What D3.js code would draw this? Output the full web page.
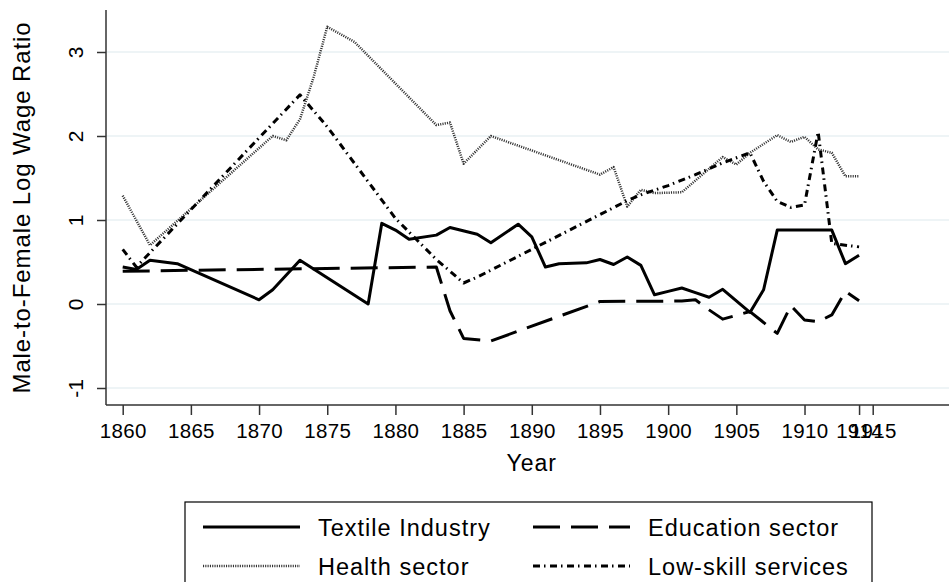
<!DOCTYPE html>
<html>
<head>
<meta charset="utf-8">
<script src="https://cdn.jsdelivr.net/npm/d3@7"></script>
<style>
  body { margin: 0; background: #fff; }
  svg text { font-family: "Liberation Sans", Arial, Helvetica, sans-serif; fill: #000; }
</style>
</head>
<body>
<svg id="chart" width="949" height="582"></svg>
<script>
// values
var textileYears = [1860,1861,1862,1864,1870,1871,1873,1878,1879,1880,1881,1883,1884,1886,1887,1889,1890,1891,1892,1894,1895,1896,1897,1898,1899,1900,1901,1902,1903,1904,1906,1907,1908,1909,1910,1911,1912,1913,1914];
var textile = [0.44,0.41,0.52,0.48,0.05,0.17,0.52,0.0,0.96,0.88,0.77,0.82,0.91,0.83,0.73,0.95,0.80,0.44,0.48,0.49,0.53,0.47,0.56,0.46,0.11,0.15,0.19,0.135,0.08,0.175,-0.10,0.17,0.88,0.88,0.88,0.88,0.88,0.48,0.58];

var eduYears = [1860,1883,1884,1885,1887,1895,1901,1902,1903,1904,1906,1908,1909,1910,1911,1912,1913,1914];
var education = [0.39,0.44,-0.08,-0.41,-0.44,0.03,0.035,0.05,-0.07,-0.18,-0.09,-0.35,-0.02,-0.19,-0.21,-0.13,0.15,0.04];

var healthYears = [1860,1862,1871,1872,1873,1874,1875,1877,1883,1884,1885,1887,1895,1896,1897,1898,1899,1901,1904,1905,1906,1908,1909,1910,1911,1912,1913,1914];
var health = [1.29,0.70,2.00,1.95,2.20,2.70,3.30,3.12,2.13,2.16,1.67,2.00,1.54,1.63,1.16,1.36,1.32,1.33,1.75,1.66,1.80,2.01,1.93,1.99,1.84,1.80,1.52,1.52];

var lowYears = [1860,1861,1873,1875,1880,1883,1885,1886,1897,1898,1900,1902,1904,1906,1907,1908,1909,1910,1911,1912,1914];
var lowSkill = [0.65,0.44,2.49,2.11,1.02,0.53,0.25,0.32,1.23,1.30,1.41,1.54,1.68,1.80,1.46,1.22,1.15,1.18,2.05,0.72,0.68];

var xTicks = [1860,1865,1870,1875,1880,1885,1890,1895,1900,1905,1910,1914,1915];
var yTicks = [-1,0,1,2,3];

var series = [
  { name: "Textile Industry", years: textileYears, values: textile, dash: null, width: 3, color: "#000" },
  { name: "Education sector", years: eduYears, values: education, dash: "27,11", width: 3, color: "#000" },
  { name: "Health sector", years: healthYears, values: health, dash: "1.1,1.2", width: 2.5, color: "#333" },
  { name: "Low-skill services", years: lowYears, values: lowSkill, dash: "7,4,1.5,4.5", width: 3, color: "#000" }
];

var plotLeft = 106, plotRight = 949, plotTop = 10, plotBottom = 405;

var svg = d3.select("#chart");

var x = d3.scaleLinear().domain([1860, 1915]).range([122.7, 872.7]);
var y = d3.scaleLinear().domain([-1, 3]).range([388, 52]);

// plain hyphen for negatives, like the original
var fmt = function(d) { return String(d); };

// grid
svg.append("g")
  .selectAll("line")
  .data(yTicks)
  .enter()
  .append("line")
  .attr("x1", plotLeft)
  .attr("x2", plotRight)
  .attr("y1", function(d) { return y(d); })
  .attr("y2", function(d) { return y(d); })
  .attr("stroke", "#e9f1f3")
  .attr("stroke-width", 1.6);

// axes
var xAxis = svg.append("g")
  .attr("transform", "translate(0," + plotBottom + ")")
  .call(d3.axisBottom(x).tickValues(xTicks).tickFormat(fmt).tickSize(10).tickSizeOuter(0));
xAxis.select(".domain").remove();
xAxis.selectAll(".tick line").attr("stroke", "#333").attr("stroke-width", 1.5);
xAxis.selectAll(".tick text")
  .attr("font-size", "20.5px")
  .attr("letter-spacing", "0.3px")
  .attr("dy", "0").attr("y", 33);

var yAxis = svg.append("g")
  .attr("transform", "translate(" + plotLeft + ",0)")
  .call(d3.axisLeft(y).tickValues(yTicks).tickFormat(fmt).tickSize(9).tickSizeOuter(0));
yAxis.select(".domain").remove();
yAxis.selectAll(".tick line").attr("stroke", "#333").attr("stroke-width", 1.5);
yAxis.selectAll(".tick text")
  .attr("font-size", "21px")
  .attr("x", null).attr("dy", null)
  .attr("text-anchor", "middle")
  .attr("transform", "translate(-23,0) rotate(-90)");

svg.append("line")
  .attr("x1", plotLeft).attr("x2", plotRight)
  .attr("y1", plotBottom).attr("y2", plotBottom)
  .attr("stroke", "#333").attr("stroke-width", 1.5);
svg.append("line")
  .attr("x1", plotLeft).attr("x2", plotLeft)
  .attr("y1", plotTop).attr("y2", plotBottom)
  .attr("stroke", "#333").attr("stroke-width", 1.5);

// axis titles
svg.append("text")
  .attr("x", x(1890))
  .attr("y", 471)
  .attr("text-anchor", "middle")
  .attr("font-size", "23px")
  .attr("letter-spacing", "1px")
  .text("Year");

svg.append("text")
  .attr("transform", "translate(30," + ((plotTop + plotBottom) / 2) + ") rotate(-90)")
  .attr("text-anchor", "middle")
  .attr("font-size", "24px")
  .attr("letter-spacing", "0.9px")
  .text("Male-to-Female Log Wage Ratio");

// lines
var line = d3.line()
  .x(function(d) { return x(d[0]); })
  .y(function(d) { return y(d[1]); });

series.forEach(function(s) {
  var pts = s.years.map(function(yr, i) { return [yr, s.values[i]]; });
  svg.append("path")
    .datum(pts)
    .attr("d", line)
    .attr("fill", "none")
    .attr("stroke", s.color)
    .attr("stroke-width", s.width)
    .attr("stroke-linejoin", "round")
    .attr("stroke-dasharray", s.dash);
});

// legend
svg.append("rect")
  .attr("x", 185).attr("y", 502)
  .attr("width", 687).attr("height", 120)
  .attr("fill", "#fff")
  .attr("stroke", "#000")
  .attr("stroke-width", 1.2);

var legendPos = [[203, 527], [533, 527], [203, 566], [533, 566]];
series.forEach(function(s, i) {
  var p = legendPos[i];
  svg.append("line")
    .attr("x1", p[0]).attr("x2", p[0] + 97)
    .attr("y1", p[1]).attr("y2", p[1])
    .attr("stroke", s.color)
    .attr("stroke-width", s.width)
    .attr("stroke-dasharray", s.dash);
  svg.append("text")
    .attr("x", p[0] + 115)
    .attr("y", p[1] + 8.5)
    .attr("font-size", "23.5px")
    .attr("letter-spacing", "1px")
    .text(s.name);
});
</script>
</body>
</html>
